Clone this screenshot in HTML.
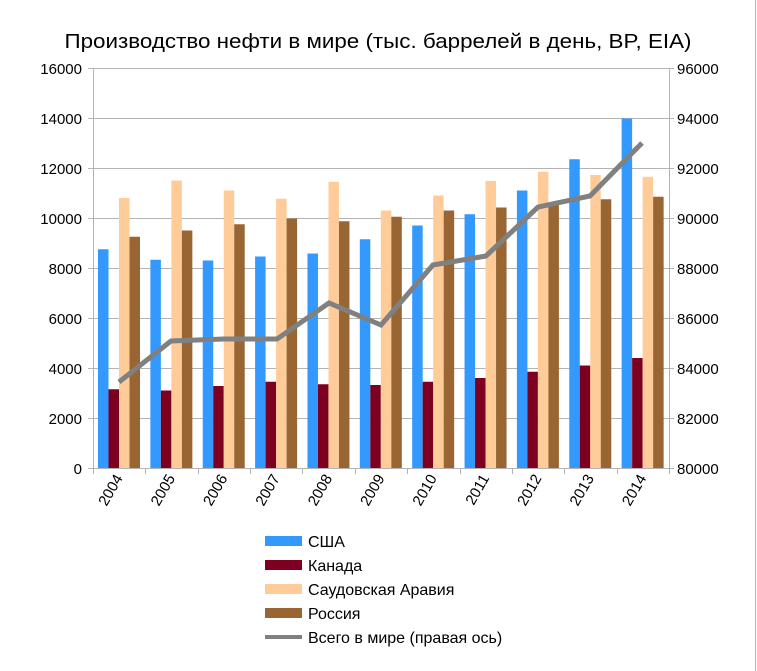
<!DOCTYPE html>
<html><head><meta charset="utf-8"><style>body{margin:0;background:#fff}svg{display:block}</style></head><body>
<svg width="757" height="671" xmlns="http://www.w3.org/2000/svg" font-family="Liberation Sans, sans-serif">
<rect width="757" height="671" fill="#fff"/>
<line x1="755.5" y1="0" x2="755.5" y2="671" stroke="#b3b3b3"/>
<text x="378" y="48" font-size="20" text-anchor="middle" textLength="627" lengthAdjust="spacingAndGlyphs">Производство нефти в мире (тыс. баррелей в день, BP, EIA)</text>
<g stroke="#b3b3b3" stroke-width="1">
<line x1="88" y1="68.5" x2="674" y2="68.5"/><line x1="88" y1="118.5" x2="674" y2="118.5"/>
<line x1="88" y1="168.5" x2="674" y2="168.5"/><line x1="88" y1="218.5" x2="674" y2="218.5"/>
<line x1="88" y1="268.5" x2="674" y2="268.5"/><line x1="88" y1="318.5" x2="674" y2="318.5"/>
<line x1="88" y1="368.5" x2="674" y2="368.5"/><line x1="88" y1="418.5" x2="674" y2="418.5"/>
<line x1="88" y1="468.5" x2="674" y2="468.5"/>
<line x1="93.5" y1="68" x2="93.5" y2="474"/><line x1="669.5" y1="68" x2="669.5" y2="468"/>
</g>
<g stroke="#b3b3b3" id="ticks"></g>
<g font-size="15" text-anchor="end">
<text x="82" y="74">16000</text><text x="82" y="124">14000</text><text x="82" y="174">12000</text>
<text x="82" y="224">10000</text><text x="82" y="274">8000</text><text x="82" y="324">6000</text>
<text x="82" y="374">4000</text><text x="82" y="424">2000</text><text x="82" y="474">0</text>
</g>
<g font-size="15" text-anchor="start">
<text x="677" y="74">96000</text><text x="677" y="124">94000</text><text x="677" y="174">92000</text>
<text x="677" y="224">90000</text><text x="677" y="274">88000</text><text x="677" y="324">86000</text>
<text x="677" y="374">84000</text><text x="677" y="424">82000</text><text x="677" y="474">80000</text>
</g>
<g id="bars"></g>
<polyline points="119,382 171,341 224,339 277,339 329,303 381,325 433,265 486,256 538,207 590,196 642,143" fill="none" stroke="#808080" stroke-width="5"/>
<g id="xl" font-size="15"></g>
<g font-size="16">
<rect x="265" y="536" width="37" height="10" fill="#3399ff"/><text x="308" y="547">США</text>
<rect x="265" y="560" width="37" height="10" fill="#7e0021"/><text x="308" y="571">Канада</text>
<rect x="265" y="584" width="37" height="10" fill="#ffcc99"/><text x="308" y="595">Саудовская Аравия</text>
<rect x="265" y="608" width="37" height="10" fill="#996633"/><text x="308" y="619">Россия</text>
<rect x="265" y="635" width="37" height="4" fill="#808080"/><text x="308" y="643">Всего в мире (правая ось)</text>
</g>
<script>
var ns="http://www.w3.org/2000/svg";
var d=[[8750,3150,10800,9250],[8330,3100,11500,9500],[8300,3280,11100,9750],[8460,3450,10770,9980],[8580,3350,11450,9870],[9150,3320,10300,10050],[9700,3450,10900,10300],[10150,3600,11480,10420],[11100,3850,11850,10550],[12350,4100,11720,10750],[13980,4400,11650,10850]];
var c=["#3399ff","#7e0021","#ffcc99","#996633"];
var g=document.getElementById("bars"),t=document.getElementById("ticks"),xl=document.getElementById("xl");
var w=576/11;
for(var i=0;i<11;i++){var x0=93+i*w;
for(var j=0;j<4;j++){var r=document.createElementNS(ns,"rect");var h=d[i][j]*0.025;
r.setAttribute("x",x0+5+j*10.5);r.setAttribute("width",10.5);r.setAttribute("y",468-h);r.setAttribute("height",h);r.setAttribute("fill",c[j]);g.appendChild(r);}
var l=document.createElementNS(ns,"line");l.setAttribute("x1",Math.round(x0+w)+.5);l.setAttribute("x2",Math.round(x0+w)+.5);l.setAttribute("y1",468);l.setAttribute("y2",474);t.appendChild(l);
var tx=document.createElementNS(ns,"text");var cx=x0+w/2+4,cy=478;tx.setAttribute("x",cx);tx.setAttribute("y",cy);tx.setAttribute("text-anchor","end");tx.setAttribute("transform","rotate(-60 "+cx+" "+cy+")");tx.textContent=2004+i;xl.appendChild(tx);}
</script>
</svg>
</body></html>
